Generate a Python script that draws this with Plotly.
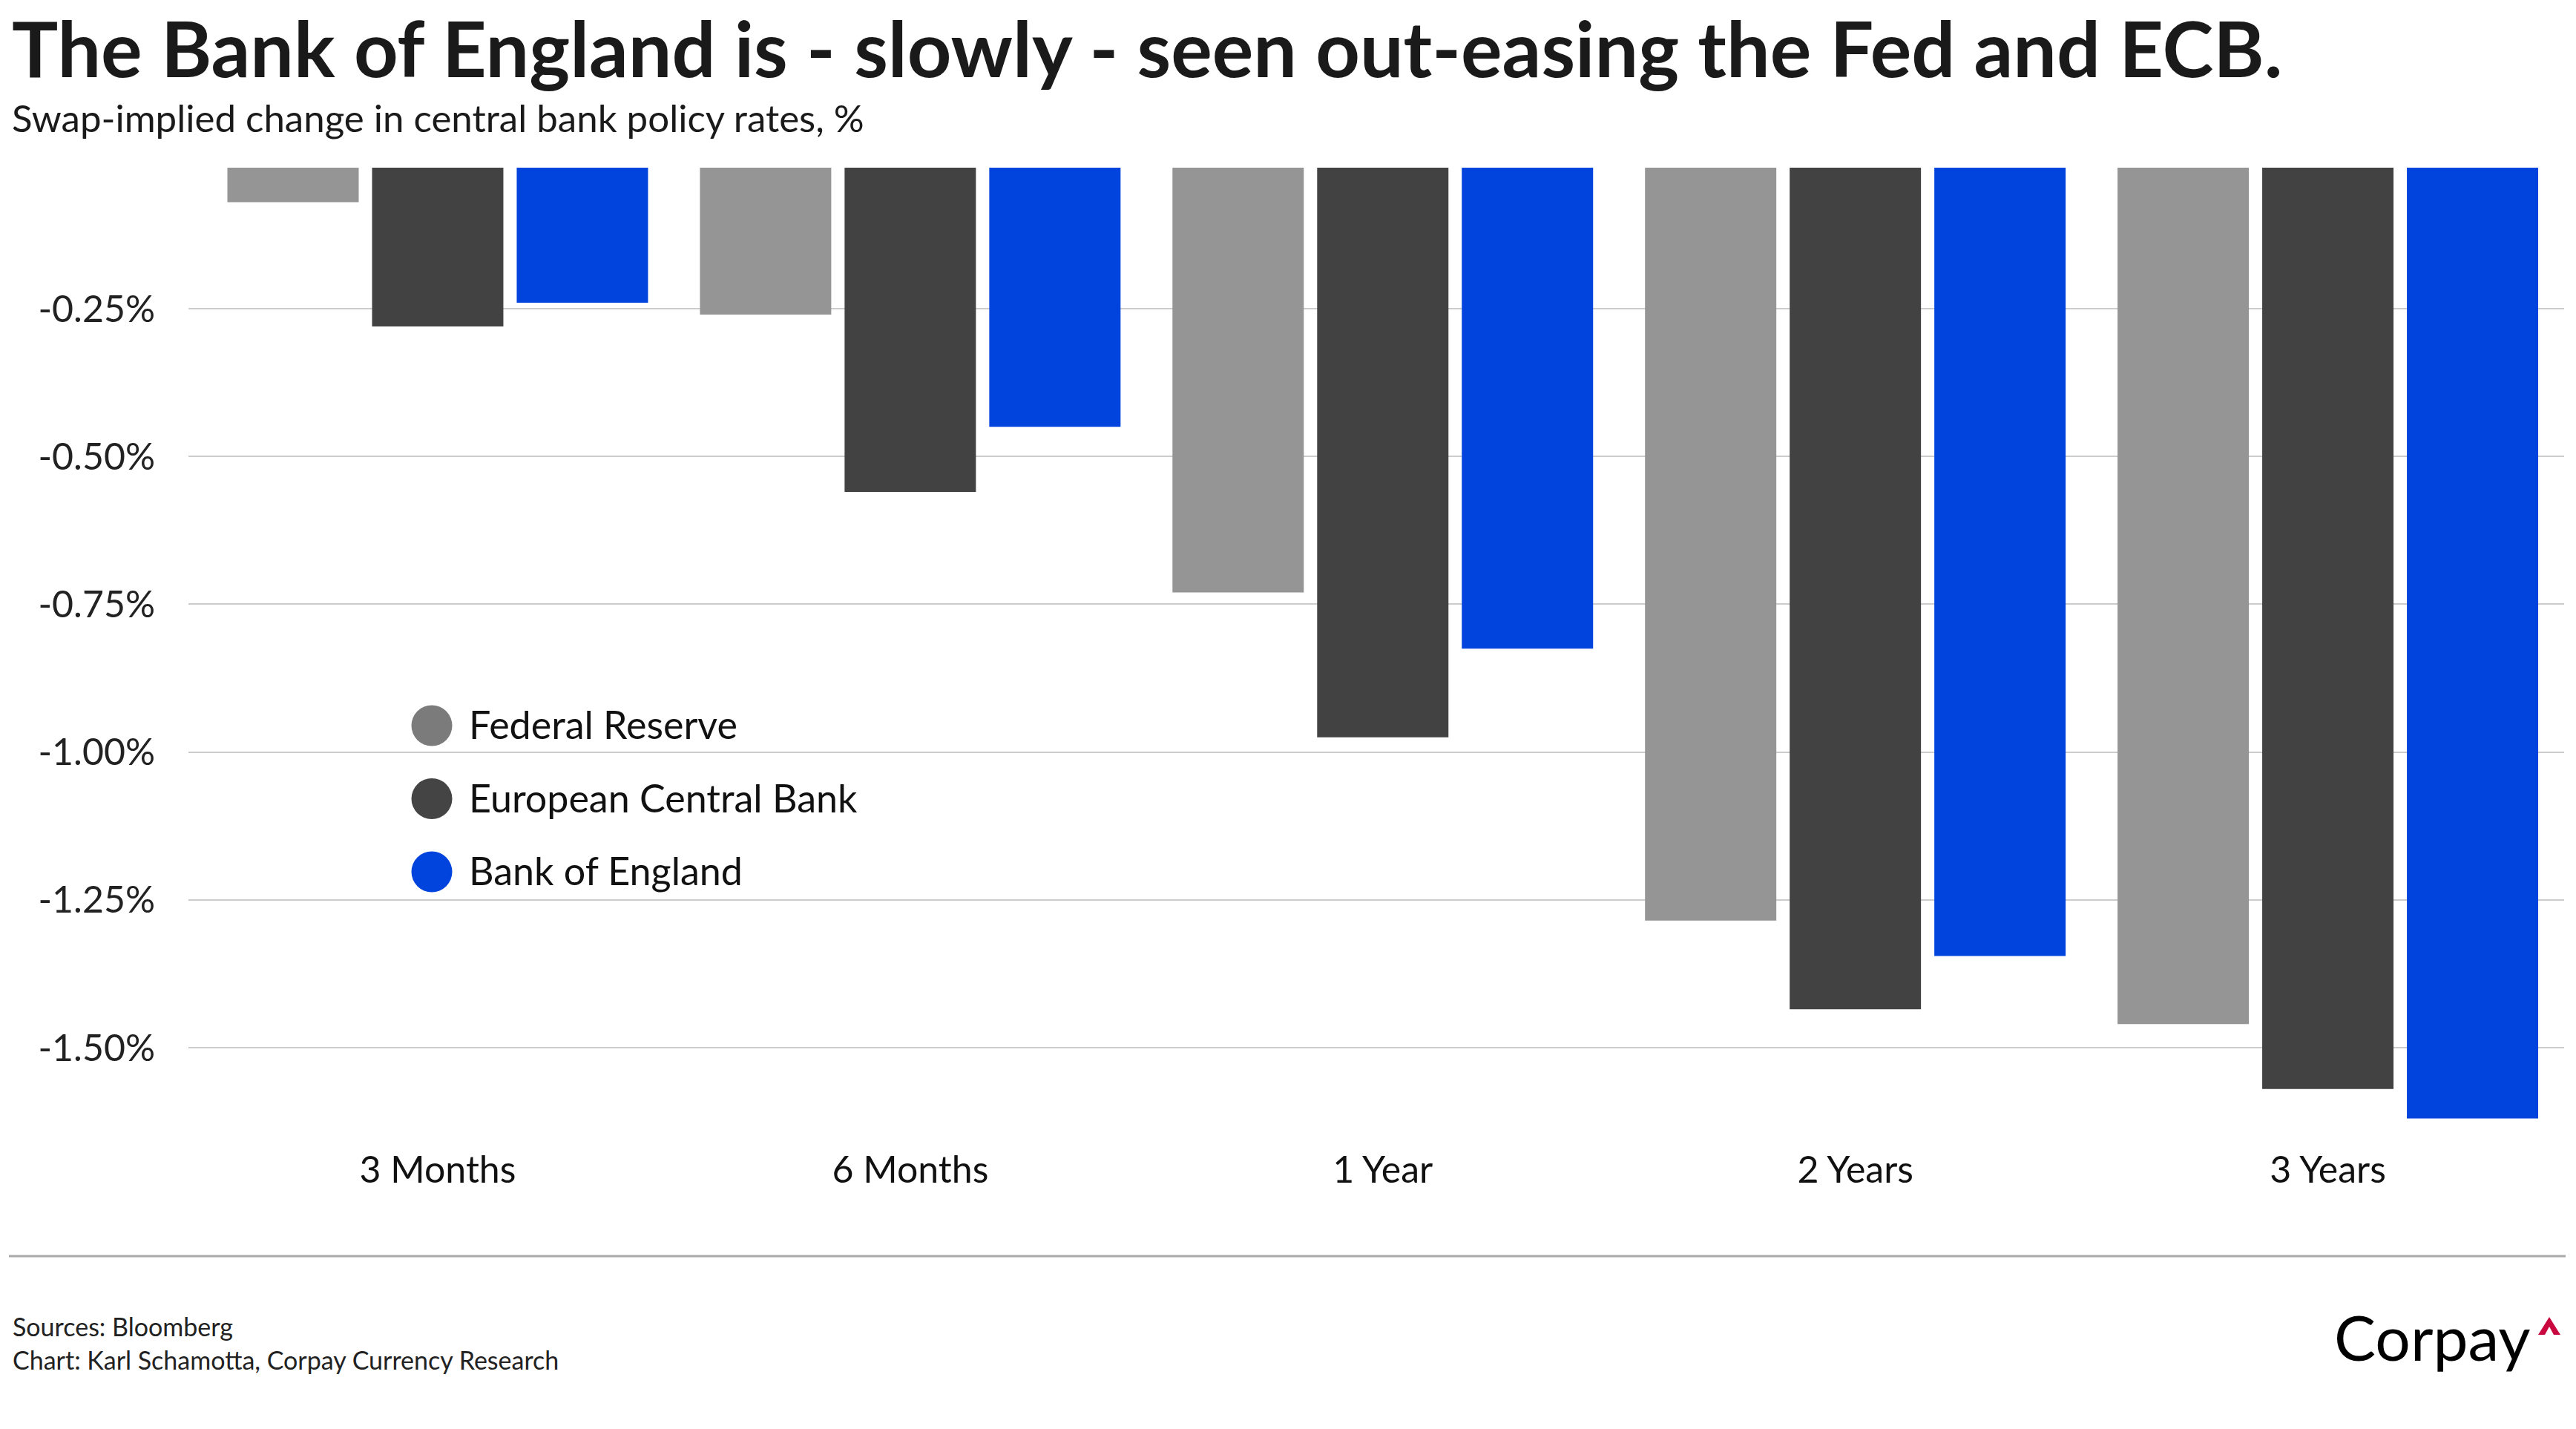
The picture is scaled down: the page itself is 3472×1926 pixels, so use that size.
import plotly.graph_objects as go

# ---------------- data ----------------
categories = ["3 Months", "6 Months", "1 Year", "2 Years", "3 Years"]
series_names = ["Federal Reserve", "European Central Bank", "Bank of England"]
fed_values = [-0.07, -0.26, -0.73, -1.285, -1.46]
ecb_values = [-0.28, -0.56, -0.975, -1.435, -1.57]
boe_values = [-0.24, -0.45, -0.825, -1.345, -1.62]
bar_colors = ["#959595", "#424242", "#0044DD"]
legend_colors = ["#7b7b7b", "#444444", "#0044DD"]
y_tick_values = [-0.25, -0.50, -0.75, -1.00, -1.25, -1.50]
y_tick_labels = ["-0.25%", "-0.50%", "-0.75%", "-1.00%", "-1.25%", "-1.50%"]

title_text = "The Bank of England is - slowly - seen out-easing the Fed and ECB."
subtitle_text = "Swap-implied change in central bank policy rates, %"
source_text = "Sources: Bloomberg"
credit_text = "Chart: Karl Schamotta, Corpay Currency Research"
logo_text = "Corpay"

# ---------------- layout geometry ----------------
FW, FH = 3472, 1926
L, R, T, B = 254, 16, 226, 396
W = FW - L - R
H = FH - T - B


def xp(px):
    return (px - L) / W


def yp(py):
    return (FH - B - py) / H


FONT = "Lato, 'Open Sans', sans-serif"

fig = go.Figure()
for name, vals, col in zip(series_names, [fed_values, ecb_values, boe_values], bar_colors):
    fig.add_trace(go.Bar(x=categories, y=vals, name=name, marker=dict(color=col, line=dict(width=0)),
                         showlegend=False))

annotations = [
    dict(text=title_text, x=xp(15), y=yp(63), xanchor="left", yanchor="middle", borderpad=0,
         font=dict(family=FONT, size=104, color="#1a1a1a", weight=700)),
    dict(text=subtitle_text, x=xp(15), y=yp(158), xanchor="left", yanchor="middle", borderpad=0,
         font=dict(family=FONT, size=51, color="#1a1a1a")),
    dict(text=source_text, x=xp(15), y=yp(1787), xanchor="left", yanchor="middle",
         font=dict(family=FONT, size=34, color="#222222")),
    dict(text=credit_text, x=xp(15), y=yp(1832), xanchor="left", yanchor="middle",
         font=dict(family=FONT, size=34, color="#222222")),
    dict(text=logo_text, x=xp(3144), y=yp(1802), xanchor="left", yanchor="middle",
         font=dict(family=FONT, size=84, color="#000000")),
]

shapes = [
    dict(type="line", xref="paper", yref="paper", x0=xp(12), x1=xp(3458), y0=yp(1693), y1=yp(1693),
         line=dict(color="#aaaaaa", width=3)),
    # logo caret
    dict(type="path", xref="paper", yref="paper", fillcolor="#C8083E", line=dict(width=0),
         path="M {:.6f},{:.6f} L {:.6f},{:.6f} L {:.6f},{:.6f} L {:.6f},{:.6f} L {:.6f},{:.6f} L {:.6f},{:.6f} Z".format(
             xp(3421), yp(1799), xp(3436), yp(1775), xp(3451), yp(1799),
             xp(3442), yp(1799), xp(3436), yp(1788), xp(3430), yp(1799))),
]

# legend drawn as circles + labels
legend_rows_y = [978, 1076.5, 1175]
for name, col, cy in zip(series_names, legend_colors, legend_rows_y):
    cx, r = 582, 27.5
    shapes.append(dict(type="circle", xref="paper", yref="paper",
                       x0=xp(cx - r), x1=xp(cx + r), y0=yp(cy + r), y1=yp(cy - r),
                       fillcolor=col, line=dict(width=0)))
    annotations.append(dict(text=name, x=xp(630), y=yp(cy - 2), xanchor="left", yanchor="middle",
                            font=dict(family=FONT, size=52, color="#111111")))

for a in annotations:
    a.update(xref="paper", yref="paper", showarrow=False)

fig.update_layout(
    width=FW, height=FH,
    margin=dict(l=L, r=R, t=T, b=B, pad=0),
    paper_bgcolor="white", plot_bgcolor="white",
    barmode="group", bargap=0.0816, bargroupgap=0.0923,
    annotations=annotations, shapes=shapes,
    xaxis=dict(type="category", range=[-0.5275, 4.5], showgrid=False, zeroline=False, showline=False,
               ticks="", tickfont=dict(family=FONT, size=50, color="#111111"), ticklabelstandoff=13),
    yaxis=dict(range=[-(1530 - 216.8) / 796.8, -(226 - 216.8) / 796.8], tickvals=y_tick_values,
               ticktext=y_tick_labels, showgrid=True, gridcolor="#cccccc", gridwidth=2,
               zeroline=False, showline=False, ticks="",
               tickfont=dict(family=FONT, size=50, color="#222222"), ticklabelstandoff=44),
    font=dict(family=FONT),
)

fig.write_html("out.html", config={"displayModeBar": False},
               post_script="document.body.style.margin='0';document.body.style.overflow='hidden';")
